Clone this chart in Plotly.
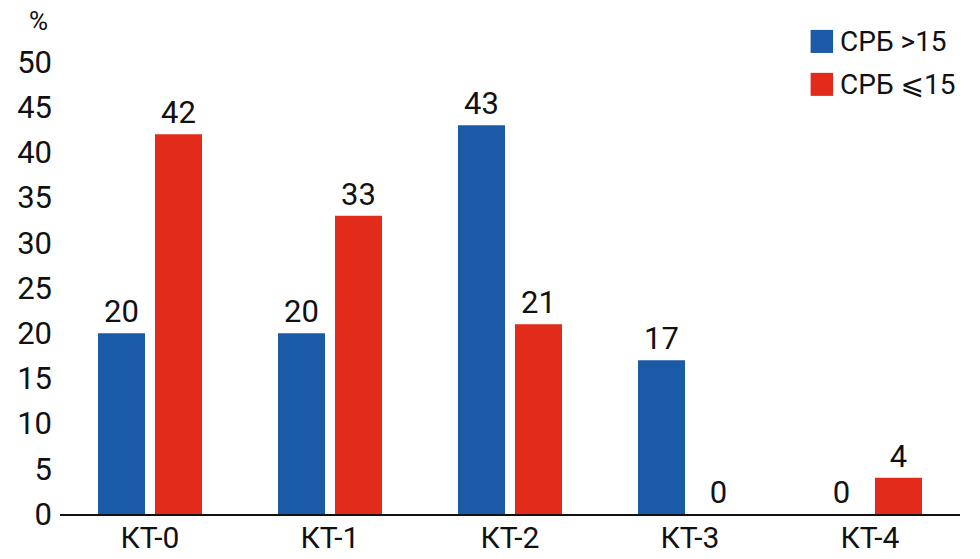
import plotly.graph_objects as go

categories = ["КТ-0", "КТ-1", "КТ-2", "КТ-3", "КТ-4"]
series_names = ["СРБ >15", "СРБ ⩽15"]
crp_high = [20, 20, 43, 17, 0]
crp_low = [42, 33, 21, 0, 4]
y_ticks = list(range(0, 51, 5))

BLUE = "#1B5AA7"
RED = "#E22B1A"
FONT = "Roboto, DejaVu Sans, sans-serif"
INK = "#111111"

fig = go.Figure()
for name, vals, color in [(series_names[0], crp_high, BLUE), (series_names[1], crp_low, RED)]:
    fig.add_trace(go.Bar(
        x=categories, y=vals, name=name,
        marker=dict(color=color, line=dict(width=0)),
        text=[str(v) for v in vals],
        textposition="outside",
        textfont=dict(size=31, color=INK, family=FONT),
        cliponaxis=False,
        showlegend=False,
    ))

# legend drawn by hand so the swatches can be big squares
for i, (name, color) in enumerate(zip(series_names, [BLUE, RED])):
    top = 1.071 - i * 0.095
    fig.add_shape(type="rect", xref="paper", yref="paper",
                  x0=0.834, x1=0.859, y0=top - 0.051, y1=top,
                  fillcolor=color, line=dict(width=0))
    fig.add_annotation(text=name, xref="paper", yref="paper",
                       x=0.864, y=top - 0.0255, xanchor="left", yanchor="middle",
                       showarrow=False, font=dict(size=28, color=INK, family=FONT))

fig.add_annotation(text="%", xref="paper", yref="paper", x=-0.011, y=1.0,
                   xanchor="right", yanchor="bottom", yshift=24, showarrow=False,
                   font=dict(size=26, color=INK, family=FONT))

fig.update_layout(
    width=980, height=559,
    margin=dict(l=60, r=20, t=62, b=45, autoexpand=False),
    paper_bgcolor="white", plot_bgcolor="white",
    barmode="group", bargap=0.367, bargroupgap=0.175,
    font=dict(family=FONT, size=31, color=INK),
    xaxis=dict(showline=True, linecolor=INK, linewidth=1.5,
               ticks="", showgrid=False, tickfont=dict(size=30),
               ticklabelstandoff=-4, automargin=False),
    yaxis=dict(range=[0, 50], tickvals=y_ticks, showgrid=False,
               zeroline=False, showline=False, ticks="", automargin=False,
               tickfont=dict(size=31), ticklabelstandoff=7),
)

# the page has a default 8px body margin which shifts the whole figure
fig.write_html("out.html", config={"displayModeBar": False},
               post_script="document.body.style.margin='0px';")
